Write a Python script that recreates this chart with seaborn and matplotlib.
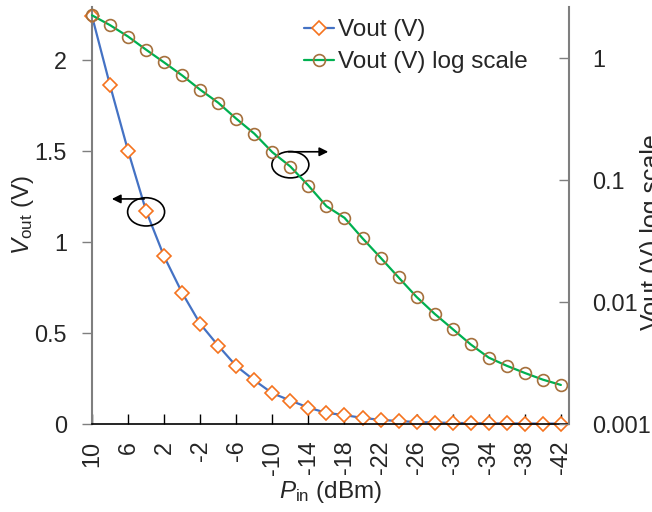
import matplotlib
matplotlib.use("Agg")
import matplotlib.pyplot as plt
import seaborn as sns
import numpy as np
from matplotlib.patches import Ellipse

pin_dbm = [10, 8, 6, 4, 2, 0, -2, -4, -6, -8, -10, -12, -14, -16, -18, -20,
           -22, -24, -26, -28, -30, -32, -34, -36, -38, -40, -42]
vout = [2.24, 1.86, 1.50, 1.17, 0.92, 0.72, 0.55, 0.43, 0.318, 0.240, 0.169,
        0.129, 0.090, 0.061, 0.049, 0.0333, 0.0231, 0.0159, 0.0110, 0.0080,
        0.0060, 0.00449, 0.0035, 0.0030, 0.00262, 0.00231, 0.00209]
xticks = list(range(10, -43, -4))
left_ticks = [0, 0.5, 1, 1.5, 2]
left_ticklabels = ["0", "0.5", "1", "1.5", "2"]
right_ticks = [0.001, 0.01, 0.1, 1]
right_ticklabels = ["0.001", "0.01", "0.1", "1"]

sns.set_theme(style="white")
plt.rcParams['font.family'] = ['Liberation Sans', 'DejaVu Sans']
plt.rcParams['mathtext.fontset'] = 'custom'
plt.rcParams['mathtext.rm'] = 'Liberation Sans'
plt.rcParams['mathtext.it'] = 'Liberation Sans:italic'

FS = 16.8
FSL = 17.5
fig = plt.figure(figsize=(6.52, 5.12), dpi=100)
ax = fig.add_axes([92/652, 1-424/512, (569-92)/652, (424-7)/512])
ax2 = ax.twinx()

blue = "#4472C4"
orange = "#F5731E"
green = "#00B050"
brown = "#A5703C"

sns.lineplot(x=pin_dbm, y=vout, ax=ax, sort=False, color=blue, linewidth=1.6,
             marker='D', markersize=7, markerfacecolor='white',
             markeredgecolor=orange, markeredgewidth=1.2, clip_on=False,
             label="Vout (V)", legend=False)
sns.lineplot(x=pin_dbm, y=vout, ax=ax2, sort=False, color=green, linewidth=1.6,
             marker='o', markersize=8.5, markerfacecolor='none',
             markeredgecolor=brown, markeredgewidth=1.2, clip_on=False,
             label="Vout (V) log scale", legend=False)

ax.set_xlim(10, -42.9)
ax.set_ylim(0, 2.29)
ax2.set_yscale('log')
ax2.set_ylim(0.001, 2.62)

ax.set_xticks(xticks)
ax.set_xticklabels([str(t) for t in xticks], rotation=90, fontsize=FS)
ax.set_yticks(left_ticks)
ax.set_yticklabels(left_ticklabels, fontsize=FS)
ax2.set_yticks(right_ticks)
ax2.set_yticklabels(right_ticklabels, fontsize=FS)
ax2.yaxis.set_minor_locator(matplotlib.ticker.NullLocator())

ax.tick_params(axis='x', direction='in', length=7, width=1, color='black',
               pad=12, bottom=True)
ax.tick_params(axis='y', direction='out', length=7, width=1, color='#7f7f7f',
               pad=11, left=True)
ax2.tick_params(axis='y', direction='in', length=7, width=1, color='#7f7f7f',
                pad=16.5, right=True)

for a in (ax, ax2):
    a.spines['top'].set_visible(False)
ax.spines['right'].set_visible(False)
ax.spines['left'].set_color('#7f7f7f')
ax.spines['left'].set_linewidth(1.5)
ax.spines['bottom'].set_color('black')
ax.spines['bottom'].set_linewidth(1.2)
ax2.spines['left'].set_visible(False)
ax2.spines['bottom'].set_visible(False)
ax2.spines['right'].set_color('#7f7f7f')
ax2.spines['right'].set_linewidth(1.5)
ax.grid(False)
ax2.grid(False)

ax.set_xlabel(r"$P_{\rm in}$ (dBm)", fontsize=FSL, labelpad=3)
ax.set_ylabel(r"$V_{\rm out}$ (V)", fontsize=FSL)
ax.yaxis.set_label_coords((36 - 92) / 477, 0.5)
ax2.set_ylabel("Vout (V) log scale", fontsize=18)
ax2.yaxis.set_label_coords((640 - 92) / 477, 0.46)

# annotations: ellipses and arrows
ax.add_patch(Ellipse((4, 1.165), width=4.1, height=0.155, fill=False,
                     edgecolor='black', linewidth=1.2, zorder=5))
ax.annotate("", xy=(7.8, 1.236), xytext=(4.2, 1.236),
            arrowprops=dict(arrowstyle='-|>', color='black', lw=1.2,
                            mutation_scale=13, shrinkA=0, shrinkB=0))
ax.add_patch(Ellipse((-12, 1.424), width=4.1, height=0.145, fill=False,
                     edgecolor='black', linewidth=1.2, zorder=5))
ax.annotate("", xy=(-16.2, 1.495), xytext=(-11.8, 1.495),
            arrowprops=dict(arrowstyle='-|>', color='black', lw=1.2,
                            mutation_scale=13, shrinkA=0, shrinkB=0))

h1, l1 = ax.get_legend_handles_labels()
h2, l2 = ax2.get_legend_handles_labels()
fig.legend(h1 + h2, l1 + l2, loc='upper left',
           bbox_to_anchor=(304/652, 1-19/512), frameon=False, fontsize=FSL,
           handlelength=1.25, handletextpad=0.15, labelspacing=0.42,
           borderpad=0, borderaxespad=0)

fig.savefig("out.png", dpi=100)
